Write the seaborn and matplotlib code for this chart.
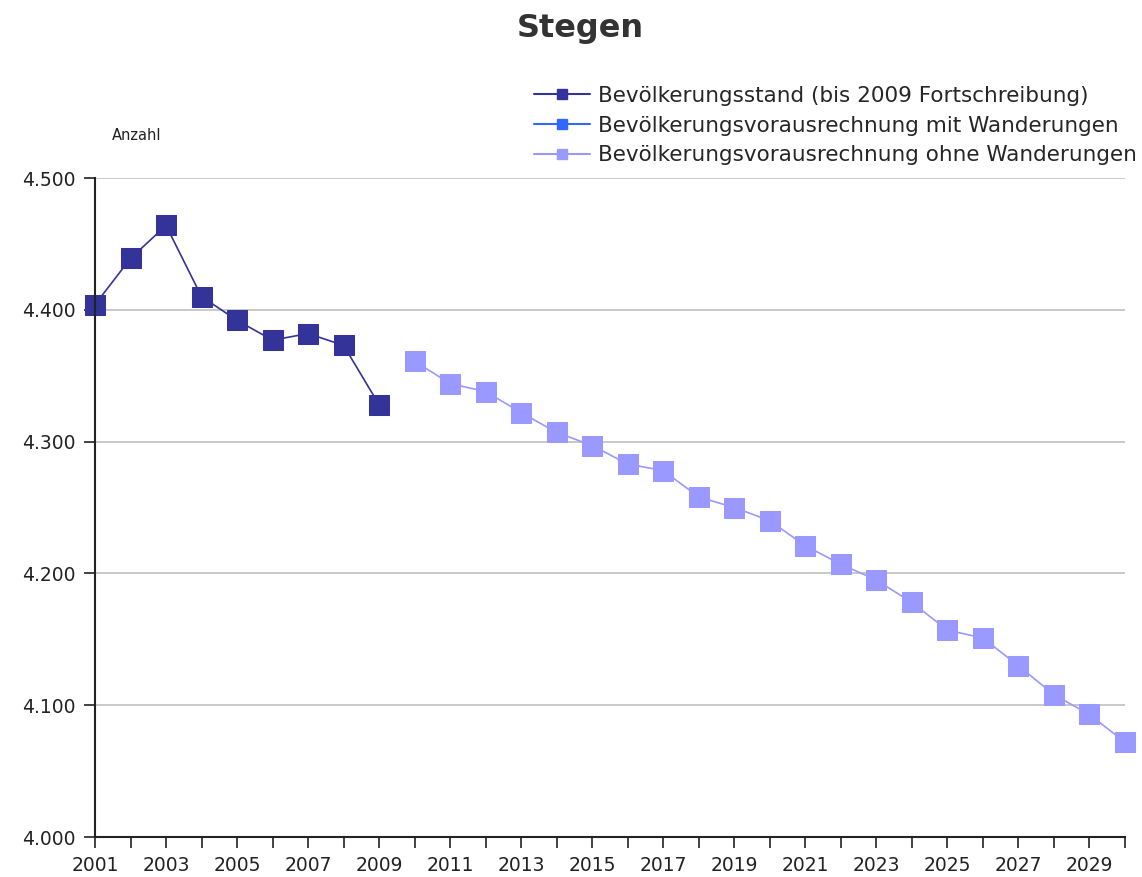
import matplotlib
matplotlib.use("Agg")
import matplotlib.pyplot as plt
import matplotlib.ticker as mticker
from matplotlib.lines import Line2D
import seaborn as sns
import pandas as pd
import numpy as np

# Data
years_hist = [2001, 2002, 2003, 2004, 2005, 2006, 2007, 2008, 2009]
pop_hist = [4404, 4439, 4464, 4410, 4392, 4377, 4382, 4373, 4328]

years_proj = list(range(2010, 2031))
pop_mit = [np.nan] * len(years_proj)  # series listed in legend, no visible values
pop_ohne = [4361, 4344, 4338, 4322, 4307, 4297, 4283, 4278, 4258, 4250, 4240,
            4221, 4207, 4195, 4178, 4157, 4151, 4130, 4108, 4093, 4072]

labels = ["Bevölkerungsstand (bis 2009 Fortschreibung)",
          "Bevölkerungsvorausrechnung mit Wanderungen",
          "Bevölkerungsvorausrechnung ohne Wanderungen"]
colors = ["#333399", "#3366ff", "#9999ff"]

df_hist = pd.DataFrame({"Jahr": years_hist, "Anzahl": pop_hist})
df_mit = pd.DataFrame({"Jahr": years_proj, "Anzahl": pop_mit})
df_ohne = pd.DataFrame({"Jahr": years_proj, "Anzahl": pop_ohne})

sns.set_style("white")
plt.rcParams["font.family"] = ["DejaVu Sans"]

fig = plt.figure(figsize=(11.42, 8.77), dpi=100)
ax = fig.add_axes([0.0832, 0.0456, 0.9018, 0.7514])

for d, c in [(df_hist, colors[0]), (df_mit, colors[1]), (df_ohne, colors[2])]:
    if d["Anzahl"].notna().any():
        sns.lineplot(data=d, x="Jahr", y="Anzahl", ax=ax, color=c, marker="s",
                     markersize=14, markeredgecolor=c, linewidth=1.2, clip_on=False)

ax.set_xlim(2001, 2030)
ax.set_ylim(4000, 4500)
ax.xaxis.set_major_locator(mticker.FixedLocator(range(2001, 2031, 2)))
ax.xaxis.set_minor_locator(mticker.FixedLocator(range(2002, 2031, 2)))
ax.yaxis.set_major_locator(mticker.MultipleLocator(100))
ax.yaxis.set_major_formatter(mticker.FuncFormatter(lambda v, p: f"{int(v):,}".replace(",", ".")))
ax.grid(axis="y", color="#c0c0c0", linewidth=1.2)
ax.set_axisbelow(True)
for s in ["top", "right"]:
    ax.spines[s].set_visible(False)
for s in ["left", "bottom"]:
    ax.spines[s].set_color("#222222")
    ax.spines[s].set_linewidth(1.5)
ax.tick_params(axis="both", which="both", direction="out", length=8, width=1.2,
               colors="#222222", labelsize=13.5, bottom=True, left=True)
ax.tick_params(axis="y", pad=6)
ax.tick_params(axis="x", which="both", pad=6)
ax.set_xlabel("")
ax.set_ylabel("")

fig.text(0.098, 0.846, "Anzahl", fontsize=10.5, color="#222222", va="center")
fig.text(0.508, 0.968, "Stegen", fontsize=23, fontweight="bold", color="#333333",
         ha="center", va="center")

handles = [Line2D([], [], color=c, marker="s", markersize=7, markeredgecolor=c, linewidth=1.5)
           for c in colors]
fig.legend(handles, labels, loc="upper right", bbox_to_anchor=(0.999, 0.907),
           frameon=False, fontsize=15.5, handlelength=2.6, handletextpad=0.35,
           labelspacing=0.45, borderpad=0.2, borderaxespad=0.0)

fig.savefig("out.png", dpi=100)
